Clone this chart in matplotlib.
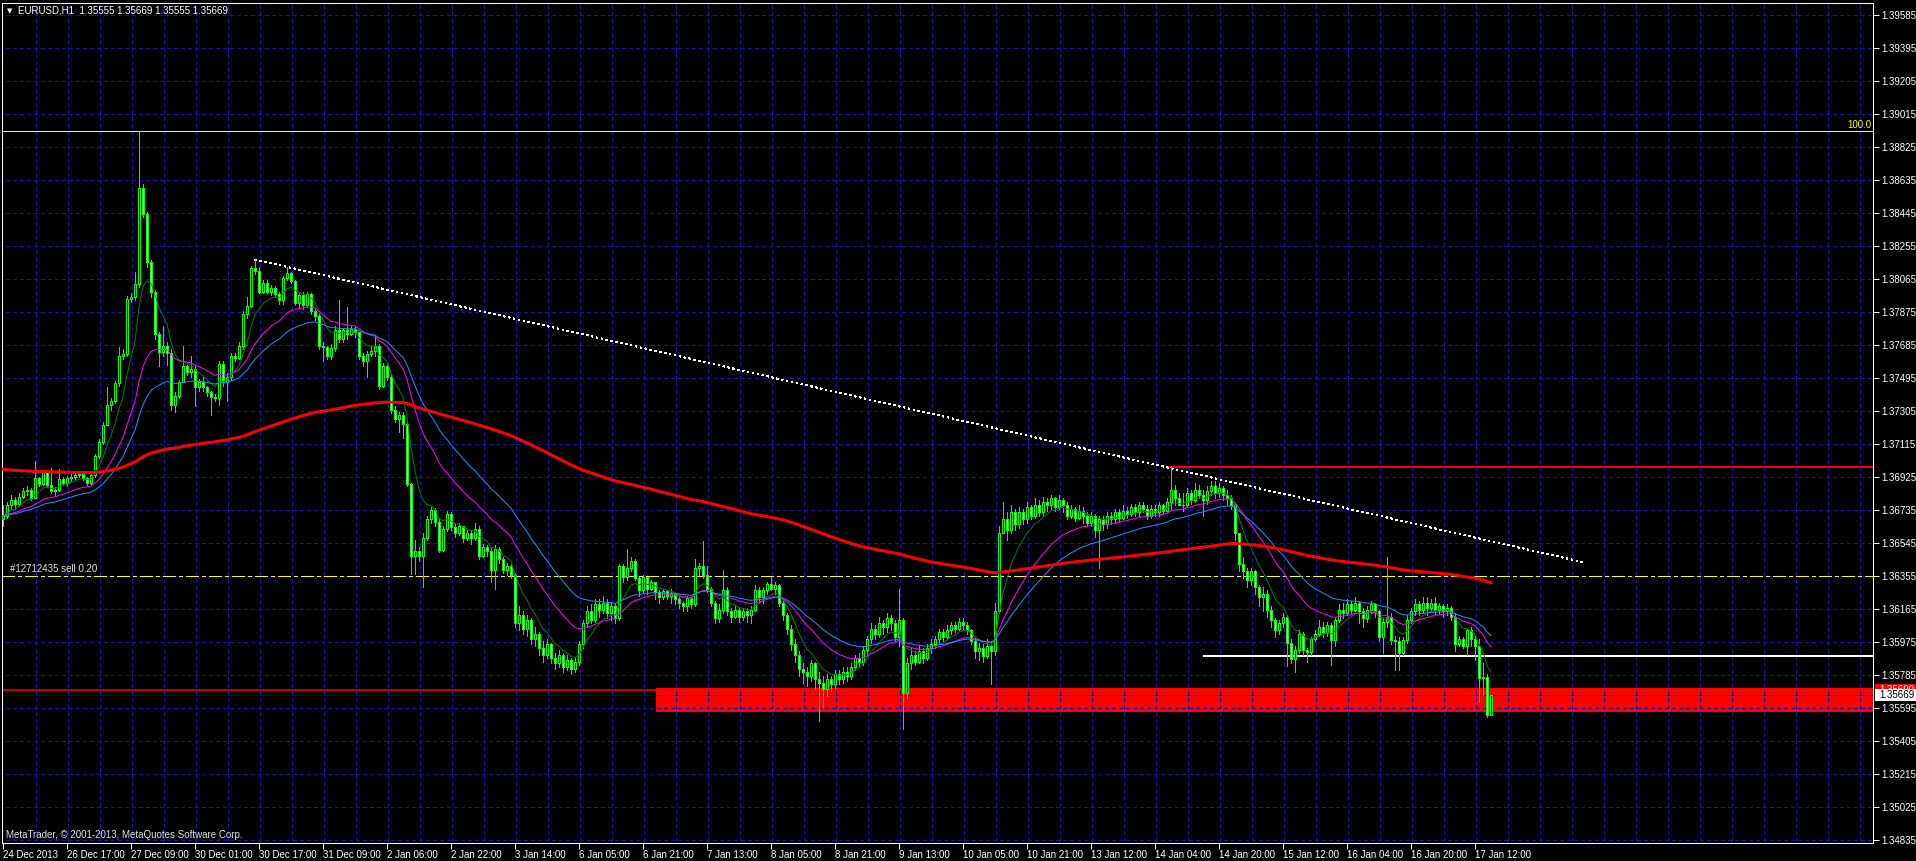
import numpy as np
import pandas as pd
import matplotlib
matplotlib.use("Agg")
import matplotlib.pyplot as plt
from matplotlib.patches import Rectangle

W, H = 1916, 861
plt.rcParams.update({"font.family": ["Liberation Sans", "DejaVu Sans"], "font.size": 7})

# EURUSD H1, prices in 1e-5 above 1.3 (open of each bar = previous close)
open0 = 6680
close = [
    6700, 6760, 6790, 6770, 6810, 6840, 6850, 6805, 6915, 6885, 6950, 6875, 6840, 6850, 6910, 6890, 6915, 6925, 6935, 6940,
    6920, 6890, 6935, 7045, 7125, 7225, 7340, 7360, 7465, 7620, 7630, 7950, 7960, 8035, 8590, 8440, 8160, 7990, 7745, 7645,
    7680, 7640, 7335, 7390, 7470, 7560, 7530, 7545, 7440, 7470, 7440, 7410, 7385, 7380, 7575, 7470, 7500, 7620, 7610, 7680,
    7860, 7905, 8125, 8110, 7990, 8040, 7990, 8010, 7975, 7940, 8070, 8100, 8050, 7925, 7970, 7915, 7975, 7880, 7850, 7680,
    7670, 7620, 7665, 7770, 7720, 7770, 7745, 7775, 7760, 7620, 7590, 7630, 7650, 7680, 7450, 7565, 7500, 7310, 7260, 7280,
    7230, 6885, 6470, 6495, 6470, 6570, 6680, 6735, 6665, 6505, 6625, 6710, 6635, 6600, 6640, 6570, 6600, 6570, 6625, 6470,
    6520, 6500, 6385, 6510, 6450, 6385, 6410, 6360, 6080, 6130, 6050, 6100, 5990, 6020, 5940, 5900, 5960, 5880, 5850, 5900,
    5830, 5870, 5820, 5860, 5960, 6080, 6150, 6100, 6190, 6160, 6200, 6140, 6180, 6110, 6410, 6345, 6400, 6440, 6340, 6270,
    6345, 6280, 6320, 6260, 6235, 6265, 6240, 6250, 6220, 6200, 6180, 6225, 6190, 6400, 6410, 6360, 6280, 6200, 6110, 6160,
    6270, 6150, 6120, 6160, 6120, 6150, 6130, 6160, 6270, 6230, 6275, 6310, 6280, 6300, 6200, 6130, 6050, 5960, 5900, 5820,
    5800, 5780, 5850, 5760, 5740, 5700, 5760, 5730, 5790, 5760, 5800, 5780, 5830, 5880, 5860, 5930, 5990, 6050, 6020, 6080,
    6060, 6110, 6080, 6000, 6100, 5680, 5850, 5900, 5860, 5920, 5880, 5940, 5960, 5990, 6030, 6000, 6040, 6070, 6050, 6090,
    6070, 6040, 5980, 5920, 5940, 5890, 5950, 5920, 6150, 6600, 6680, 6620, 6720, 6650, 6720, 6680, 6750, 6700, 6760, 6720,
    6780, 6760, 6800, 6750, 6790, 6760, 6700, 6740, 6690, 6730, 6700, 6660, 6700, 6620, 6680, 6650, 6700, 6680, 6720, 6690,
    6730, 6710, 6750, 6720, 6760, 6740, 6700, 6740, 6720, 6760, 6730, 6780, 6850, 6800, 6760, 6760, 6830, 6790, 6850, 6820,
    6790, 6840, 6870, 6830, 6860, 6820, 6800, 6760, 6600, 6420, 6380, 6330, 6380, 6290, 6230, 6250, 6160, 6100, 6040, 6080,
    6120, 5970, 5875, 5930, 6020, 5925, 5915, 5990, 6020, 6060, 6030, 6070, 5985, 6100, 6160, 6140, 6190, 6160, 6200, 6150,
    6110, 6160, 6190, 6150, 6000, 6090, 6120, 5985, 5980, 5910, 5985, 6100, 6150, 6190, 6160, 6200, 6170, 6200, 6160, 6180,
    6150, 6170, 6120, 5960, 5990, 5950, 6040, 5990, 5950, 5765, 5770, 5555, 5669,
]
high = [
    6760, 6780, 6820, 6810, 6830, 6860, 6870, 6860, 7015, 6925, 6960, 6960, 6975, 6865, 6970, 6925, 6930, 6940, 6950, 6960,
    6950, 6925, 6945, 7055, 7140, 7240, 7440, 7380, 7475, 7670, 7660, 7965, 7985, 8105, 8913, 8610, 8450, 8170, 8000, 7760,
    7790, 7700, 7660, 7410, 7480, 7680, 7570, 7620, 7560, 7490, 7500, 7450, 7420, 7400, 7590, 7590, 7520, 7640, 7640, 7700,
    7880, 7960, 8140, 8175, 8135, 8060, 8060, 8030, 8025, 7990, 8080, 8130, 8105, 8060, 7980, 7990, 7990, 7980, 7890, 7860,
    7700, 7680, 7690, 7790, 7940, 7780, 7900, 7790, 7790, 7760, 7640, 7650, 7680, 7740, 7690, 7580, 7570, 7510, 7330, 7300,
    7300, 7240, 6890, 6560, 6520, 6600, 6700, 6750, 6745, 6680, 6640, 6730, 6720, 6650, 6660, 6640, 6620, 6620, 6660, 6640,
    6540, 6530, 6520, 6530, 6520, 6460, 6430, 6420, 6370, 6180, 6150, 6130, 6110, 6060, 6030, 5980, 5990, 5970, 5910, 5930,
    5910, 5900, 5880, 5880, 5980, 6100, 6180, 6190, 6220, 6220, 6240, 6220, 6200, 6190, 6420, 6420, 6508, 6460, 6450, 6350,
    6360, 6320, 6330, 6320, 6270, 6280, 6270, 6280, 6250, 6230, 6210, 6240, 6230, 6450, 6430, 6555, 6410, 6290, 6210, 6190,
    6390, 6290, 6170, 6180, 6170, 6170, 6170, 6180, 6300, 6290, 6290, 6320, 6345, 6320, 6310, 6210, 6140, 6070, 5990, 5920,
    5850, 5830, 5870, 5860, 5800, 5780, 5790, 5780, 5810, 5810, 5830, 5830, 5850, 5900, 5910, 5950, 6010, 6080, 6070, 6120,
    6100, 6140, 6130, 6100, 6280, 6110, 5880, 5940, 5920, 5950, 5940, 5960, 5990, 6010, 6050, 6050, 6070, 6090, 6090, 6110,
    6110, 6090, 6050, 6000, 5970, 5960, 5990, 5980, 6200, 6640, 6780, 6720, 6760, 6740, 6750, 6740, 6780, 6760, 6800, 6790,
    6810, 6800, 6820, 6810, 6820, 6800, 6780, 6760, 6750, 6760, 6750, 6720, 6720, 6710, 6700, 6700, 6720, 6720, 6740, 6740,
    6760, 6750, 6770, 6770, 6780, 6780, 6760, 6760, 6760, 6780, 6770, 6800, 6985, 6880, 6830, 6830, 6860, 6850, 6890, 6880,
    6850, 6870, 6900, 6900, 6890, 6870, 6850, 6820, 6770, 6600, 6460, 6400, 6400, 6390, 6300, 6290, 6270, 6180, 6110, 6100,
    6140, 6130, 5990, 5950, 6040, 6030, 5940, 6000, 6040, 6100, 6090, 6090, 6080, 6120, 6190, 6200, 6220, 6210, 6230, 6210,
    6170, 6180, 6210, 6200, 6160, 6110, 6460, 6140, 6010, 6000, 6000, 6130, 6170, 6220, 6210, 6230, 6230, 6220, 6230, 6200,
    6190, 6190, 6180, 6140, 6010, 6000, 6050, 6060, 6010, 5990, 5850, 5790, 5669,
]
low = [
    6640, 6690, 6740, 6740, 6760, 6800, 6820, 6790, 6800, 6870, 6880, 6865, 6830, 6820, 6845, 6880, 6870, 6900, 6910, 6925,
    6905, 6875, 6880, 6925, 7035, 7115, 7220, 7310, 7350, 7450, 7600, 7620, 7930, 7940, 8020, 8420, 8130, 7960, 7720, 7560,
    7620, 7570, 7310, 7300, 7380, 7470, 7510, 7500, 7330, 7420, 7420, 7390, 7280, 7360, 7340, 7450, 7360, 7480, 7590, 7600,
    7660, 7840, 7900, 8090, 7980, 7980, 7980, 7970, 7960, 7920, 7920, 8060, 8040, 7915, 7900, 7890, 7900, 7860, 7830, 7660,
    7590, 7600, 7600, 7650, 7700, 7700, 7720, 7740, 7730, 7600, 7560, 7500, 7620, 7620, 7430, 7440, 7480, 7290, 7240, 7180,
    7150, 6870, 6365, 6365, 6440, 6290, 6560, 6660, 6640, 6490, 6500, 6610, 6620, 6580, 6590, 6550, 6560, 6540, 6560, 6450,
    6460, 6470, 6320, 6280, 6430, 6370, 6360, 6340, 6060, 6040, 6020, 6010, 5960, 5950, 5900, 5860, 5880, 5850, 5820, 5830,
    5800, 5810, 5790, 5800, 5840, 5940, 6060, 6080, 6090, 6120, 6140, 6110, 6100, 6080, 6100, 6320, 6330, 6380, 6330, 6240,
    6260, 6250, 6270, 6220, 6200, 6220, 6220, 6200, 6190, 6170, 6150, 6150, 6170, 6180, 6360, 6340, 6260, 6180, 6080, 6090,
    6140, 6130, 6090, 6110, 6090, 6100, 6090, 6080, 6150, 6200, 6200, 6250, 6270, 6250, 6180, 6100, 6020, 5930, 5860, 5780,
    5740, 5720, 5750, 5700, 5520, 5600, 5660, 5690, 5710, 5730, 5740, 5750, 5760, 5810, 5830, 5840, 5900, 5970, 5990, 6000,
    6020, 6030, 6040, 5980, 5950, 5470, 5650, 5820, 5840, 5850, 5850, 5870, 5910, 5940, 5970, 5980, 5990, 6020, 6030, 6040,
    6040, 6020, 5960, 5880, 5870, 5860, 5880, 5730, 5900, 6140, 6600, 6560, 6600, 6620, 6630, 6650, 6660, 6680, 6690, 6700,
    6700, 6730, 6740, 6730, 6740, 6720, 6680, 6690, 6670, 6680, 6660, 6640, 6640, 6580, 6400, 6620, 6630, 6650, 6660, 6670,
    6680, 6690, 6700, 6700, 6700, 6720, 6680, 6690, 6700, 6700, 6710, 6720, 6740, 6760, 6760, 6730, 6750, 6770, 6780, 6800,
    6700, 6770, 6820, 6800, 6810, 6790, 6760, 6740, 6560, 6380, 6340, 6290, 6300, 6250, 6180, 6150, 6120, 6060, 6000, 6020,
    6060, 5835, 5850, 5800, 5910, 5900, 5860, 5900, 5980, 6010, 6000, 6010, 5840, 5950, 6090, 6110, 6130, 6140, 6150, 6080,
    6060, 6090, 6140, 6120, 5980, 5910, 6060, 5960, 5810, 5810, 5900, 5970, 6080, 6130, 6130, 6140, 6130, 6150, 6130, 6140,
    6120, 6130, 6100, 5920, 5950, 5940, 5900, 5950, 5870, 5630, 5670, 5540, 5555,
]

time_labels = ["24 Dec 2013", "26 Dec 17:00", "27 Dec 09:00", "30 Dec 01:00", "30 Dec 17:00", "31 Dec 09:00",
               "2 Jan 06:00", "2 Jan 22:00", "3 Jan 14:00", "6 Jan 05:00", "6 Jan 21:00", "7 Jan 13:00",
               "8 Jan 05:00", "8 Jan 21:00", "9 Jan 13:00", "10 Jan 05:00", "10 Jan 21:00", "13 Jan 12:00",
               "14 Jan 04:00", "14 Jan 20:00", "15 Jan 12:00", "16 Jan 04:00", "16 Jan 20:00", "17 Jan 12:00"]
price_top, price_step, n_prices = 1.39585, 0.0019, 26

# chart objects
fibo_100 = 1.38913
sell_price = 1.36355
resist = 1.36983
support = 1.35894
zone_lo, zone_hi = 1.35572, 1.35707
zone_line = 1.35697
bid = 1.35669
trend = ([63, 394.8], [1.38175, 1.36434])
ema_seed_red = 1.3697

c = 1.3 + np.array(close) / 1e5
o = np.r_[1.3 + open0 / 1e5, c[:-1]]
hi = np.maximum(1.3 + np.array(high) / 1e5, np.maximum(o, c))
lo = np.minimum(1.3 + np.array(low) / 1e5, np.minimum(o, c))
n = len(c)
x = np.arange(n)

PX = 0.72  # one pixel in points
LIME = "#00ff00"
GRID = "#1414a0"

fig = plt.figure(figsize=(W / 100, H / 100), dpi=100, facecolor="black")
ax = fig.add_axes([2 / W, 18 / H, 1871 / W, 840 / H], facecolor="black")
XMAX = 467.5
ax.set_xlim(-0.25, XMAX)
ax.set_ylim(1.348159, 1.396524)

yt = price_top - price_step * np.arange(n_prices)
xt = 16 * np.arange(len(time_labels))

# grid
ax.vlines(8 * np.arange(1, 59) + 0.17, 1.3, 1.4, colors=GRID, lw=PX, linestyles=(0, (3, 3)), zorder=1,
          antialiased=False)
ax.hlines(yt, -1, 470, colors=GRID, lw=PX, linestyles=(0, (3, 3)), zorder=1, antialiased=False)

# objects behind candles
ax.add_patch(Rectangle((163.25, zone_lo), XMAX - 163.25, zone_hi - zone_lo, color="#ff0000", lw=0, zorder=0.5,
                       antialiased=False))
ax.hlines(zone_line, -0.25, 163.25, colors="#ff0000", lw=1.5 * PX, zorder=2)
ax.hlines(bid, -0.25, XMAX, colors="#000080", lw=PX, zorder=2.5, antialiased=False)
ax.hlines(fibo_100, -0.25, XMAX, colors="#ffff00", lw=PX, zorder=2, antialiased=False)
ax.hlines(sell_price, -0.25, XMAX, colors="#ffff00", lw=PX, linestyles=(0, (12, 4, 3, 4)), zorder=2,
          antialiased=False)
ax.hlines(resist, 291, XMAX, colors="#ff0000", lw=2 * PX, zorder=2, antialiased=False)
ax.hlines(support, 300, XMAX, colors="white", lw=2 * PX, zorder=2, antialiased=False)
ax.plot(trend[0], trend[1], color="white", lw=PX, ls=(0, (2, 3)), zorder=2, antialiased=False)

# candles
bull = c >= o
ax.vlines(x, lo, hi, colors=LIME, lw=PX, zorder=5, antialiased=False)
ax.bar(x[bull], (c - o)[bull], bottom=o[bull], width=0.5, facecolor="black", edgecolor=LIME, lw=PX, zorder=6,
       antialiased=False)
ax.bar(x[~bull], (o - c)[~bull], bottom=c[~bull], width=0.5, facecolor="white", edgecolor=LIME, lw=PX, zorder=6,
       antialiased=False)

# moving averages
s = pd.Series(c)
ax.plot(x, s.ewm(span=8, adjust=False).mean(), color="#008000", lw=PX, zorder=7)
ax.plot(x, s.ewm(span=21, adjust=False).mean(), color="#ff00ff", lw=PX, zorder=7)
ax.plot(x, s.ewm(span=34, adjust=False).mean(), color="#1e90ff", lw=PX, zorder=7)
red = pd.Series(np.r_[ema_seed_red, c]).ewm(span=200, adjust=False).mean().values[1:]
ax.plot(x, red, color="#ff0000", lw=3 * PX, zorder=7)

# axes
for sp in ax.spines.values():
    sp.set_color("white")
    sp.set_linewidth(PX)
ax.set_yticks(yt)
ax.set_yticklabels([f"{v:.5f}" for v in yt])
ax.tick_params(axis="y", left=False, right=True, labelleft=False, labelright=True, direction="out",
               length=4, width=PX, colors="white", pad=2, labelsize=7)
ax.set_xticks(xt)
ax.set_xticklabels(time_labels)
for lb in ax.get_xticklabels():
    lb.set_ha("left")
ax.tick_params(axis="x", direction="out", length=4, width=PX, colors="white", pad=1, labelsize=7)


def fx(px):
    return px / W


def fy(py):
    return 1 - py / H


ax.text(fx(1871), fy(130), "100.0", transform=fig.transFigure, ha="right", va="bottom", color="#ffff00", fontsize=7)
ax.text(fx(10), fy(573.5), "#12712435 sell 0.20", transform=fig.transFigure, ha="left", va="bottom",
        color="#e0e0e0", fontsize=7)
fig.text(fx(18), fy(10.5), "EURUSD,H1  1.35555 1.35669 1.35555 1.35669", color="white", ha="left", va="center",
         fontsize=7)
fig.text(fx(6.5), fy(11), "\u25bc", color="white", ha="left", va="center", fontsize=5, family="DejaVu Sans")
fig.text(fx(6), fy(835), "MetaTrader, \u00a9 2001-2013, MetaQuotes Software Corp.", color="#e0e0e0", ha="left",
         va="center", fontsize=7)

# price markers on the right scale: the stop marker is mostly hidden behind the bid marker
fig.patches.append(Rectangle((fx(1875), fy(696)), fx(41), 12 / H, transform=fig.transFigure,
                             facecolor="#ff0000", lw=0, zorder=3))
stop_txt = fig.text(fx(1879), fy(690), "1.35690", color="white", ha="left", va="center", fontsize=7, zorder=4)
stop_txt.set_clip_path(Rectangle((fx(1875), fy(689.5)), fx(41), 6 / H, transform=fig.transFigure))
fig.patches.append(Rectangle((fx(1875), fy(701)), fx(41), 12 / H, transform=fig.transFigure,
                             facecolor="white", lw=0, zorder=5))
fig.text(fx(1879), fy(695.5), "1.35669", color="black", ha="left", va="center", fontsize=7, zorder=6)

fig.savefig("out.png", dpi=100, facecolor="black")
